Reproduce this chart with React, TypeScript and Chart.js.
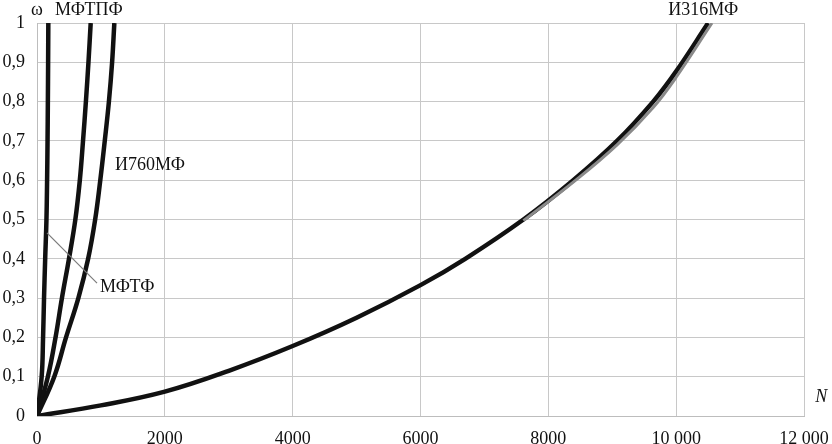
import React, { useEffect, useRef } from "react";
import { Chart, registerables } from "chart.js";

Chart.register(...registerables);

// ω levels shared by the three steep curves
const omegaSteep = [0, 0.1, 0.2, 0.3, 0.4, 0.5, 0.6, 0.7, 0.8, 0.9, 1.0];
const nMFTPF = [0, 73, 95, 110, 128, 148, 158, 165, 170, 174, 177];
const nMFTF = [0, 170, 290, 390, 500, 600, 670, 720, 765, 805, 840];
const nI760 = [0, 270, 454, 647, 800, 910, 990, 1060, 1125, 1175, 1210];

const nI316 = [0, 1000, 2000, 3000, 4000, 5000, 6000, 6700, 7610, 8390, 9075, 9640, 10000, 10500];
const omegaI316 = [0, 0.027, 0.062, 0.115, 0.178, 0.25, 0.333, 0.4, 0.5, 0.6, 0.7, 0.8, 0.877, 1.0];
const nI316b = [7610, 8390, 9075, 9640, 10000, 10560];
const omegaI316b = [0.497, 0.595, 0.69, 0.785, 0.862, 1.0];

const xTickLabels = ["0", "2000", "4000", "6000", "8000", "10 000", "12 000"];
const yTickLabels = ["0", "0,1", "0,2", "0,3", "0,4", "0,5", "0,6", "0,7", "0,8", "0,9", "1"];

// text annotations: [text, N, ω, align, italic]
const annotations: [string, number, number, CanvasTextAlign, boolean][] = [
  ["ω", 0, 1.02, "center", false],
  ["МФТПФ", 282, 1.02, "left", false],
  ["И316МФ", 9875, 1.02, "left", false],
  ["И760МФ", 1220, 0.626, "left", false],
  ["МФТФ", 986, 0.316, "left", false],
  ["N", 12175, 0.036, "left", true],
];
const pointerFrom = [156, 0.466];
const pointerTo = [939, 0.338];

const pts = (xs: number[], ys: number[]) => xs.map((x, i) => ({ x, y: ys[i] }));

const FONT = '"Liberation Serif", "Times New Roman", serif';

const labelsPlugin = {
  id: "labelsPlugin",
  afterDraw(chart: any) {
    const ctx = chart.ctx;
    const xs = chart.scales.x;
    const ys = chart.scales.y;
    ctx.save();
    ctx.strokeStyle = "#7a7a7a";
    ctx.lineWidth = 1.2;
    ctx.beginPath();
    ctx.moveTo(xs.getPixelForValue(pointerFrom[0]), ys.getPixelForValue(pointerFrom[1]));
    ctx.lineTo(xs.getPixelForValue(pointerTo[0]), ys.getPixelForValue(pointerTo[1]));
    ctx.stroke();
    ctx.fillStyle = "#111";
    ctx.textBaseline = "alphabetic";
    for (const [t, n, w, align, italic] of annotations) {
      ctx.font = (italic ? "italic " : "") + "18px " + FONT;
      ctx.textAlign = align;
      ctx.fillText(t, xs.getPixelForValue(n), ys.getPixelForValue(w));
    }
    ctx.restore();
  },
};

export default function App() {
  const ref = useRef<HTMLCanvasElement | null>(null);
  useEffect(() => {
    if (!ref.current) return;
    const common = {
      showLine: true,
      pointRadius: 0,
      borderColor: "#111",
      borderWidth: 4.5,
      tension: 0.4,
      fill: false,
    };
    const chart = new Chart(ref.current, {
      type: "scatter",
      data: {
        datasets: [
          { ...common, data: pts(nI316b, omegaI316b), borderColor: "#8a8a8a", borderWidth: 3 },
          { ...common, data: pts(nI316, omegaI316) },
          { ...common, data: pts(nI760, omegaSteep) },
          { ...common, data: pts(nMFTF, omegaSteep) },
          { ...common, data: pts(nMFTPF, omegaSteep) },
        ],
      },
      options: {
        animation: false,
        responsive: false,
        devicePixelRatio: 1,
        layout: { padding: { left: 0, top: 23, right: 28, bottom: 0 } },
        plugins: { legend: { display: false }, tooltip: { enabled: false } },
        scales: {
          x: {
            type: "linear",
            min: 0,
            max: 12000,
            afterFit: (s: any) => {
              s.height = 28;
              s.paddingRight = 0;
              s.paddingLeft = 0;
            },
            border: { color: "#bdbdbd", width: 1 },
            grid: { color: "#c8c8c8", lineWidth: 1, drawTicks: false },
            ticks: {
              stepSize: 2000,
              padding: 12,
              color: "#111",
              font: { family: FONT, size: 18 },
              maxRotation: 0,
              autoSkip: false,
              callback: (_v: any, i: number) => xTickLabels[i],
            },
          },
          y: {
            type: "linear",
            min: 0,
            max: 1,
            afterFit: (s: any) => {
              s.width = 37;
              s.paddingTop = 0;
              s.paddingBottom = 0;
            },
            border: { color: "#bdbdbd", width: 1 },
            grid: { color: "#c8c8c8", lineWidth: 1, drawTicks: false },
            ticks: {
              stepSize: 0.1,
              padding: 12,
              color: "#111",
              font: { family: FONT, size: 18 },
              autoSkip: false,
              callback: (_v: any, i: number) => yTickLabels[i],
            },
          },
        },
      },
      plugins: [labelsPlugin],
    });
    return () => chart.destroy();
  }, []);
  return (
    <div style={{ position: "absolute", left: 0, top: 0, width: 832, height: 444, background: "#fff" }}>
      <canvas ref={ref} width={832} height={444} />
    </div>
  );
}
